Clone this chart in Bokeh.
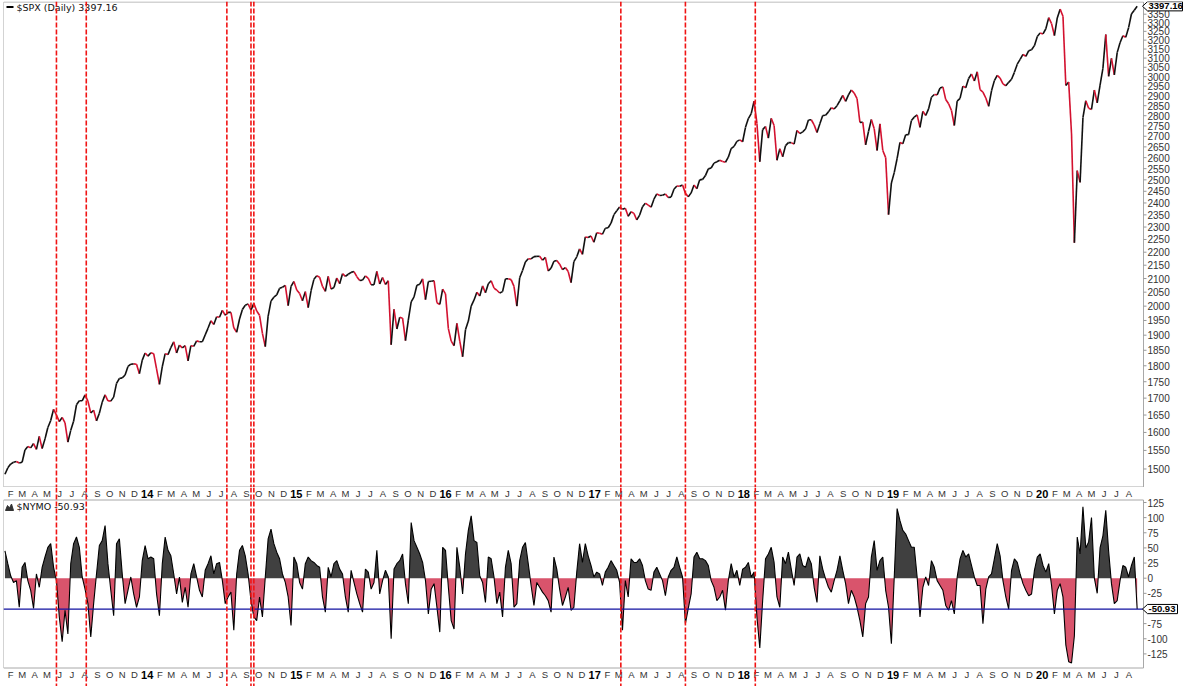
import numpy as np
import pandas as pd
from bokeh.plotting import figure
from bokeh.layouts import column
from bokeh.models import Span, Label, Range1d
from bokeh.core.properties import value
from bokeh.embed import file_html
from bokeh.resources import INLINE

# ---------------- data (weekly readings, Fridays 2013-01-18 .. 2020-08-21) ----------------
WEEK_START = "2013-01-18"
WEEK_END = "2020-08-21"

SPX_WEEKLY = [
    # 2013
    1486, 1503, 1513, 1518, 1520, 1516, 1518, 1551, 1561, 1557, 1569, 1553, 1589, 1555, 1582,
    1614, 1634, 1667, 1650, 1631, 1643, 1627, 1573, 1606, 1632, 1680, 1692, 1692, 1710, 1691,
    1656, 1664, 1633, 1655, 1688, 1710, 1692, 1691, 1703, 1745, 1760, 1762, 1771, 1798, 1805,
    1806, 1805, 1775, 1818, 1841,
    # 2014
    1831, 1842, 1839, 1790, 1742, 1797, 1839, 1836, 1859, 1878, 1841, 1867, 1858, 1865, 1816,
    1865, 1863, 1881, 1878, 1878, 1901, 1924, 1949, 1936, 1963, 1961, 1985, 1968, 1978, 1978,
    1925, 1910, 1955, 1988, 2003, 2008, 1986, 2010, 1983, 1968, 1906, 1862, 1965, 2018, 2032,
    2040, 2064, 2068, 2075, 2002, 2071, 2089,
    # 2015
    2058, 2045, 2019, 2052, 1995, 2055, 2097, 2110, 2105, 2071, 2053, 2108, 2061, 2067, 2102,
    2081, 2118, 2108, 2116, 2123, 2126, 2107, 2093, 2094, 2110, 2101, 2077, 2077, 2127, 2080,
    2104, 2078, 2092, 1868, 1989, 1921, 1961, 1958, 1882, 1951, 2015, 2033, 2075, 2079, 2099,
    2023, 2089, 2090, 2092, 2012, 2006, 2061, 2044,
    # 2016
    1922, 1880, 1865, 1940, 1880, 1829, 1918, 1948, 2000, 2022, 2050, 2036, 2073, 2048, 2081,
    2092, 2065, 2057, 2047, 2052, 2099, 2099, 2096, 2071, 2000, 2103, 2130, 2162, 2175, 2174,
    2183, 2184, 2184, 2169, 2180, 2128, 2139, 2165, 2168, 2154, 2133, 2141, 2126, 2085, 2164,
    2182, 2213, 2192, 2260, 2258, 2264, 2239,
    # 2017
    2277, 2275, 2271, 2295, 2297, 2316, 2351, 2367, 2383, 2373, 2378, 2344, 2363, 2356, 2329,
    2349, 2384, 2399, 2391, 2382, 2416, 2439, 2432, 2433, 2438, 2423, 2425, 2459, 2473, 2472,
    2477, 2441, 2426, 2443, 2477, 2461, 2500, 2502, 2519, 2549, 2553, 2575, 2581, 2588, 2582,
    2579, 2602, 2642, 2652, 2676, 2683, 2674,
    # 2018
    2743, 2786, 2810, 2873, 2762, 2581, 2732, 2747, 2691, 2787, 2752, 2588, 2641, 2604, 2656,
    2670, 2670, 2663, 2728, 2713, 2721, 2735, 2779, 2780, 2755, 2718, 2760, 2801, 2802, 2819,
    2840, 2833, 2850, 2875, 2902, 2872, 2905, 2930, 2914, 2886, 2767, 2768, 2659, 2723, 2781,
    2736, 2633, 2760, 2633, 2600, 2351, 2486,
    # 2019
    2532, 2596, 2671, 2665, 2707, 2708, 2776, 2793, 2804, 2743, 2822, 2801, 2834, 2893, 2907,
    2905, 2940, 2946, 2881, 2860, 2826, 2752, 2873, 2887, 2950, 2942, 2990, 3014, 2977, 3026,
    2932, 2919, 2889, 2847, 2926, 2979, 3007, 2992, 2962, 2952, 2970, 2986, 3023, 3067, 3093,
    3120, 3110, 3141, 3146, 3169, 3221, 3240,
    # 2020
    3235, 3265, 3330, 3295, 3226, 3328, 3380, 3338, 2954, 2972, 2711, 2237, 2541, 2489, 2790,
    2875, 2837, 2831, 2930, 2864, 2955, 3044, 3232, 3002, 3098, 3009, 3130, 3185, 3225, 3216,
    3271, 3351, 3373, 3397.16,
]

NYMO_WEEKLY = [
    45, 24, 4, -7, -4, -48, 18, 26, -4, -20, -50, 7, -15, 18, 35, 51, 57, 18, -4, -64,
    -105, -53, -92, 24, 57, 68, 51, 2, -18, -42, -97, -42, 7, 54, 62, 87, 24, -20, -62, 57,
    65, 7, -42, -20, 2, -26, -48, -31, 29, 54, 32, 35, 32, -26, -62, 24, 68, 46, 37, 7,
    -26, 2, -40, -15, -48, 7, 24, 2, -20, -31, 13, 24, 37, 7, 24, 26, -4, -42, -31, -23,
    -86, 7, 46, 54, 37, 7, -37, -64, -70, -31, -64, 2, 65, 81, 57, 43, 32, 7, -7, -31,
    -78, 35, 24, -7, -18, 24, 35, 29, 26, 21, 18, -31, -56, 18, 2, 24, 29, 15, 7, -31,
    -56, 13, -7, -26, -42, -56, 15, 10, -18, -7, 46, -26, -4, 13, 2, -100, 15, 24, 29, 40,
    -9, -42, 92, 62, 51, 40, 26, -4, -59, -18, -9, -48, -89, 51, 46, -15, -70, -84, 51, 18,
    -26, 40, 79, 103, 62, 59, 4, -7, -40, 35, 32, 2, -42, -23, -64, 18, 46, 24, -48, -42,
    29, 51, 59, 24, -12, -45, -7, -15, -23, -29, -37, -56, 35, 15, -18, -45, -31, -15, -53, -48,
    10, 57, 26, 57, 37, 21, 2, 10, 7, -12, 10, 18, 29, 21, 13, -7, -86, -4, -31, 32,
    26, 26, 32, 21, -4, -18, -20, 10, 18, 7, -4, -29, 2, 13, 18, 35, 18, 2, -75, -50,
    -26, 35, 43, 32, 32, 29, 21, -4, -15, -37, -31, -20, -53, -4, 24, 2, 13, -12, 15, 18,
    26, 2, 10, -64, -115, -37, 32, 40, 51, 26, -31, -48, 35, 24, 43, 15, -12, 35, 40, 21,
    18, 35, 24, -15, -40, 37, 15, -1, -15, -23, -4, 13, 37, 13, -9, -42, -20, -31, -48, -70,
    -97, -42, -31, 35, 62, 13, 29, 35, -20, -48, -108, 2, 115, 95, 79, 73, 62, 51, 51, 2,
    -64, -15, 2, -12, 29, 18, -4, -12, -20, -45, -53, -37, -59, 2, 32, 46, 35, 40, 21, 2,
    -12, -12, -75, -18, 2, 7, 32, 57, 37, -4, -31, -51, 13, 32, 26, 7, -9, -20, -29, -26,
    13, 35, 40, 21, 10, 24, -12, -59, -20, -9, -31, -110, -138, -140, -95, 68, 40, 118, 50, 60,
    100, 0, -25, 50, 70, 112, 45, -9, -42, -37, -4, 21, 18, 2, 21, 35, -50.93,
]

SIGNAL_DATES = ["2013-05-24", "2013-08-05", "2014-07-15", "2014-09-12", "2014-09-19",
                "2017-03-06", "2017-08-11", "2018-01-29"]

MONTH_LETTERS = ["J", "F", "M", "A", "M", "J", "J", "A", "S", "O", "N", "D"]
YEAR_TICK_LABELS = ["14", "15", "16", "17", "18", "19", "20"]
SPX_TICKS = list(range(1500, 3351, 50))
NYMO_TICKS = list(range(-125, 126, 25))
SPX_TITLE = "$SPX (Daily)"
NYMO_TITLE = "$NYMO"

# ---------------- layout geometry (image pixels) ----------------
PX_PER_YEAR = 149.17
PANEL_RIGHT = 1143          # right border of both plot panels
W = 1200


def frac_year(ts):
    start = pd.Timestamp(year=ts.year, month=1, day=1)
    days = 366 if ts.is_leap_year else 365
    return ts.year + (ts - start).days / days


def px_x(px):
    return 2013 + (px + 2.5) / PX_PER_YEAR


def py_spx(py):
    return 3350 * np.exp((13.7 - py) / 566.0)


def spx_py(v):
    return 13.7 - 566.0 * np.log(v / 3350.0)


def py_nymo(py):
    return (577.7 - py) / 0.6056


def nymo_py(v):
    return 577.7 - 0.6056 * v


X0 = px_x(3)
X1 = px_x(W)
XR = px_x(PANEL_RIGHT)

dates = pd.date_range(WEEK_START, WEEK_END, freq="W-FRI")
x = np.array([frac_year(d) for d in dates])
spx = np.array(SPX_WEEKLY, dtype=float)
nymo = np.array(NYMO_WEEKLY, dtype=float)
n = min(len(x), len(spx), len(nymo))
x, spx, nymo = x[:n], spx[:n], nymo[:n]

FONT = "Liberation Sans"
RED = "#d3112f"
DASH_RED = "#f01414"
BORDER = "#a8a8a8"
LABEL_C = "#333333"


def panel_border(p, ytop, ybot):
    p.segment(x0=[X0, X0, XR, X0], y0=[ytop, ybot, ybot, ytop],
              x1=[XR, XR, XR, X0], y1=[ytop, ybot, ytop, ybot],
              line_color=BORDER, line_width=1)


def right_ticks(p, ticks):
    ys = [float(t) for t in ticks]
    p.segment(x0=[XR] * len(ys), y0=ys, x1=[px_x(PANEL_RIGHT + 3)] * len(ys), y1=ys,
              line_color="#999999", line_width=1)
    p.text(x=[px_x(PANEL_RIGHT + 4)] * len(ys), y=ys, text=[str(t) for t in ticks],
           text_font=value(FONT), text_font_size=value("10px"), text_color=LABEL_C,
           text_align="left", text_baseline="middle")


def value_box(p, v, label, to_py, from_py, width_px):
    c = to_py(v)
    h = 4.6
    xs = [px_x(PANEL_RIGHT - 1), px_x(PANEL_RIGHT + 4), px_x(PANEL_RIGHT + 4 + width_px),
          px_x(PANEL_RIGHT + 4 + width_px), px_x(PANEL_RIGHT + 4)]
    ys = [from_py(c), from_py(c - h), from_py(c - h), from_py(c + h), from_py(c + h)]
    p.patch(x=xs, y=ys, fill_color="white", line_color="black", line_width=1)
    p.text(x=[px_x(PANEL_RIGHT + 5)], y=[v], text=[label], text_font=value(FONT),
           text_font_size=value("9.5px"), text_font_style=value("bold"), text_color="black",
           text_align="left", text_baseline="middle")


# ---------------- top panel: SPX ----------------
p1 = figure(frame_width=W - 3, frame_height=486, x_range=Range1d(X0, X1),
            y_range=Range1d(py_spx(487), py_spx(1)), y_axis_type="log",
            x_axis_location=None, y_axis_location=None,
            toolbar_location=None, output_backend="svg",
            min_border_left=3, min_border_top=1, min_border_bottom=0, min_border_right=0)
p1.grid.visible = False
p1.outline_line_color = None
p1.background_fill_color = "white"
p1.border_fill_color = "white"

panel_border(p1, py_spx(1.5), py_spx(486.5))
right_ticks(p1, SPX_TICKS)

up = spx[1:] >= spx[:-1]
seg_colors = ["#111111" if u else RED for u in up]
p1.segment(x0=x[:-1], y0=spx[:-1], x1=x[1:], y1=spx[1:], line_color=seg_colors, line_width=1.6)

# header
p1.line(x=[px_x(6), px_x(13)], y=[py_spx(6.5), py_spx(6.5)], line_color="black", line_width=2)
p1.add_layout(Label(x=px_x(16), y=py_spx(7), text=f"{SPX_TITLE} {spx[-1]:.2f}",
                    text_font="DejaVu Sans", text_font_size="9.5px", text_color="#111111",
                    text_baseline="middle", text_align="left"))
value_box(p1, spx[-1], f"{spx[-1]:.2f}", spx_py, py_spx, 35)

# ---------------- bottom panel: NYMO ----------------
p2 = figure(frame_width=W - 3, frame_height=199, x_range=p1.x_range,
            y_range=Range1d(py_nymo(686), py_nymo(487)),
            x_axis_location=None, y_axis_location=None,
            toolbar_location=None, output_backend="svg",
            min_border_left=3, min_border_top=0, min_border_bottom=0, min_border_right=0)
p2.grid.visible = False
p2.outline_line_color = None
p2.background_fill_color = "white"
p2.border_fill_color = "white"

PANEL_TOP = py_nymo(499.5)
PANEL_BOT = py_nymo(667.5)

# area fill with zero crossings
xf, vf = [], []
for i in range(n):
    xf.append(x[i]); vf.append(nymo[i])
    if i < n - 1 and nymo[i] * nymo[i + 1] < 0:
        t = nymo[i] / (nymo[i] - nymo[i + 1])
        xf.append(x[i] + t * (x[i + 1] - x[i])); vf.append(0.0)
xf = np.array(xf); vf = np.array(vf)
p2.varea(x=xf, y1=0, y2=np.maximum(vf, 0), fill_color="#404040")
p2.varea(x=xf, y1=0, y2=np.minimum(vf, 0), fill_color="#d9546c")
p2.line(x=x, y=nymo, line_color="black", line_width=1.1)

panel_border(p2, PANEL_TOP, PANEL_BOT)
right_ticks(p2, NYMO_TICKS)

# last value line
p2.segment(x0=[X0], y0=[nymo[-1]], x1=[XR], y1=[nymo[-1]], line_color="#1010a0", line_width=1.3)

# header
p2.patch(x=[px_x(5), px_x(7), px_x(9), px_x(11), px_x(13)],
         y=[py_nymo(510), py_nymo(505), py_nymo(507.5), py_nymo(503.5), py_nymo(510)],
         fill_color="#333333", line_color="#333333")
p2.add_layout(Label(x=px_x(16), y=py_nymo(505.5), text=f"{NYMO_TITLE} {nymo[-1]:.2f}",
                    text_font="DejaVu Sans", text_font_size="9.5px", text_color="#111111",
                    text_baseline="middle", text_align="left"))
value_box(p2, nymo[-1], f"{nymo[-1]:.2f}", nymo_py, py_nymo, 30)

# month / year labels (two rows)
mx, mt, yx, yt = [], [], [], []
for ms in pd.date_range("2013-02-01", "2020-08-01", freq="MS"):
    fx = frac_year(ms)
    if ms.month == 1:
        yx.append(fx); yt.append(YEAR_TICK_LABELS[ms.year - 2014])
    else:
        mx.append(fx); mt.append(MONTH_LETTERS[ms.month - 1])
for row_y in (py_nymo(493), py_nymo(674)):
    p2.text(x=mx, y=[row_y] * len(mx), text=mt, text_font=value(FONT),
            text_font_size=value("9.5px"), text_color=LABEL_C,
            text_align="center", text_baseline="middle")
    p2.text(x=yx, y=[row_y] * len(yx), text=yt, text_font=value(FONT),
            text_font_size=value("11px"), text_font_style=value("bold"), text_color="black",
            text_align="center", text_baseline="middle")

# signal lines across both panels
for d in SIGNAL_DATES:
    fx = frac_year(pd.Timestamp(d))
    for p in (p1, p2):
        p.add_layout(Span(location=fx, dimension="height", line_color=DASH_RED,
                          line_width=1.6, line_dash="5 2"))

layout = column(p1, p2)
open("out.html", "w").write(file_html(layout, INLINE))
